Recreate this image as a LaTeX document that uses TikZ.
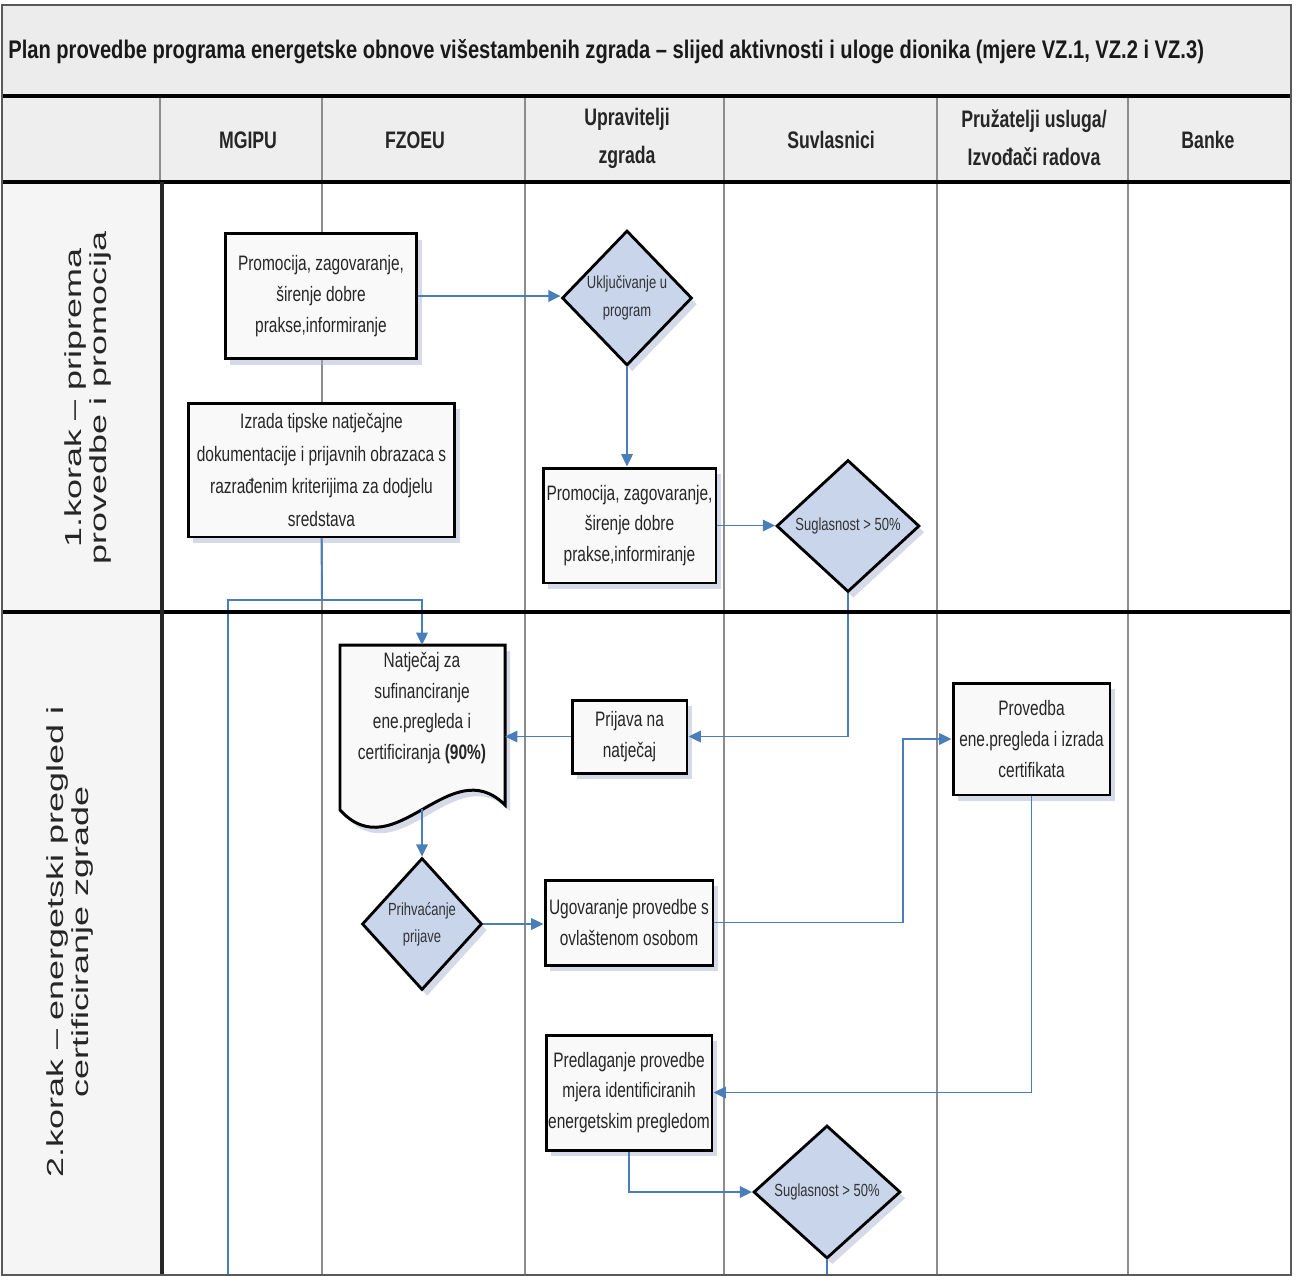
\documentclass[tikz,border=0pt]{standalone}
\usepackage{fontspec}
\setmainfont{Liberation Sans}
\newfontfamily\narrowfont[FakeStretch=0.74]{Liberation Sans}
\newfontfamily\titlenarrow[FakeStretch=0.79]{Liberation Sans}
\newfontfamily\widefont[FakeStretch=1.55]{Liberation Sans}
\usetikzlibrary{shapes.geometric,arrows.meta,shadows,calc}
\definecolor{flowblue}{RGB}{74,126,187}
\definecolor{dfill}{RGB}{200,213,235}
\definecolor{colgray}{RGB}{140,140,140}
\definecolor{bandgray}{RGB}{236,236,236}
\definecolor{hdrgray}{RGB}{238,238,238}
\definecolor{lanegray}{RGB}{245,245,245}
\definecolor{shadowc}{RGB}{165,175,205}
\newcommand{\boxfont}{\narrowfont\fontsize{11.9}{17.5}\selectfont}
\newcommand{\diafont}{\narrowfont\fontsize{10}{15.5}\selectfont}
\newcommand{\hdrfont}{\narrowfont\bfseries\fontsize{13.6}{21.5}\selectfont}
\newcommand{\ttlfont}{\titlenarrow\bfseries\fontsize{14.5}{17}\selectfont}
\newcommand{\lanefont}{\widefont\fontsize{13.2}{14.5}\selectfont}
\begin{document}
\begin{tikzpicture}[x=0.02cm,y=-0.02cm,
  box/.style={draw=black, line width=1.7pt, fill=gray!5, align=center, inner sep=0pt,
    font=\boxfont, text=black!85,
    drop shadow={shadow xshift=3pt, shadow yshift=-3.5pt, fill=shadowc, opacity=0.45}},
  dia/.style={diamond, draw=black, line width=1.6pt, fill=dfill, align=center, inner sep=0pt,
    font=\diafont, text=black!80,
    drop shadow={shadow xshift=3pt, shadow yshift=-3.5pt, fill=shadowc, opacity=0.45}},
  flow/.style={draw=flowblue, line width=1.1pt, -{Triangle[length=7pt,width=6.5pt]}},
  flowline/.style={draw=flowblue, line width=1.1pt},
  colrule/.style={draw=colgray, line width=0.6pt},
  divider/.style={draw=black, line width=2.2pt},
  hdr/.style={font=\hdrfont, align=center, text=black!85},
  lane/.style={rotate=90, align=center, font=\lanefont, text=black!85}
]
\path[use as bounding box] (0,0) rectangle (1294,1275);
\fill[white] (0,0) rectangle (1294,1275);
% bands
\fill[bandgray] (2,5) rectangle (1291,96);
\fill[hdrgray] (2,96) rectangle (1291,182);
\fill[lanegray] (2,182) rectangle (162,1275);
% column rules
\foreach \cx in {322,525,724,937,1128} \draw[colrule] (\cx,96) -- (\cx,1275);
\draw[colrule] (160,96) -- (160,182);

% title
\node[anchor=west, font=\ttlfont, inner sep=0pt, text=black!90] (title) at (8,52)
  {Plan provedbe programa energetske obnove višestambenih zgrada – slijed aktivnosti i uloge dionika (mjere VZ.1, VZ.2 i VZ.3)};

% header
\node[hdr] (hm) at (248,140) {MGIPU};
\node[hdr] (hf) at (415,140) {FZOEU};
\node[hdr] (hu) at (627,138) {Upravitelji\\zgrada};
\node[hdr] (hs) at (831,140) {Suvlasnici};
\node[hdr] (hp) at (1034,138) {Pružatelji usluga/\\Izvođači radova};
\node[hdr] (hb) at (1208,140) {Banke};

% lane labels
\node[lane] (lab1) at (88,398) {1.korak – priprema\\provedbe i promocija};
\node[lane] (lab2) at (70,942) {2.korak – energetski pregled i\\certificiranje zgrade};

% step 1
\node[box, minimum width=3.84cm, minimum height=2.5cm] (p1) at (321,296)
  {Promocija, zagovaranje,\\širenje dobre\\prakse,informiranje};
\node[dia, minimum width=2.6cm, minimum height=2.7cm] (d1) at (627,298) {Uključivanje u\\program};
\node[box, minimum width=5.34cm, minimum height=2.68cm, font=\narrowfont\fontsize{11.9}{18.7}\selectfont] (izr) at (321.5,470)
  {Izrada tipske natječajne\\dokumentacije i prijavnih obrazaca s\\razrađenim kriterijima za dodjelu\\sredstava};
\node[box, minimum width=3.46cm, minimum height=2.3cm] (p2) at (629.5,525.5)
  {Promocija, zagovaranje,\\širenje dobre\\prakse,informiranje};
\node[dia, minimum width=2.86cm, minimum height=2.64cm] (d2) at (848,526) {Suglasnost > 50\%};

% step 2
\coordinate (natc) at (422,708);
\fill[shadowc, opacity=0.45] ($(natc)+(-77,-57)$) -- ($(natc)+(88,-57)$) -- ($(natc)+(88,103)$)
  .. controls ($(natc)+(33,48)$) and ($(natc)+(-22,168)$) .. ($(natc)+(-77,108)$) -- cycle;
\draw[line width=1.7pt, fill=gray!5] ($(natc)+(-82,-63)$) -- ($(natc)+(83,-63)$) -- ($(natc)+(83,97)$)
  .. controls ($(natc)+(28,42)$) and ($(natc)+(-27,162)$) .. ($(natc)+(-82,102)$) -- cycle;
\node[inner sep=0pt, align=center, font=\boxfont, text=black!85] (nat) at (natc)
  {Natječaj za\\sufinanciranje\\ene.pregleda i\\certificiranja \textbf{(90\%)}};
\node[box, minimum width=2.3cm, minimum height=1.46cm] (prij) at (629.5,736.5) {Prijava na\\natječaj};
\node[dia, minimum width=2.4cm, minimum height=2.64cm] (d3) at (422,924) {Prihvaćanje\\prijave};
\node[box, minimum width=3.36cm, minimum height=1.7cm] (ugo) at (629,922.5) {Ugovaranje provedbe s\\ovlaštenom osobom};
\node[box, minimum width=3.14cm, minimum height=2.24cm] (prov) at (1031.5,739)
  {Provedba\\ene.pregleda i izrada\\certifikata};
\node[box, minimum width=3.32cm, minimum height=2.3cm] (pred) at (629,1092.5)
  {Predlaganje provedbe\\mjera identificiranih\\energetskim pregledom};
\node[dia, minimum width=2.94cm, minimum height=2.66cm] (d4) at (827,1192) {Suglasnost > 50\%};

% connectors
\draw[flow] (p1.east) -- (p1.east -| d1.west);
\draw[flow] (d1.south) -- (d1.south |- p2.north);
\draw[flow] (p2.east) -- (p2.east -| d2.west);
\draw[flow] (d2.south) |- (prij.east);
\coordinate (natr) at ($(natc)+(83,29)$);
\draw[flow] (prij.west) -- (prij.west -| natr);
\coordinate (jn) at (322,600);
\coordinate (jl) at (228,600);
\coordinate (bl) at (228,1275);
\coordinate (natt) at ($(natc)+(0,-63)$);
\draw[flowline] (izr.south) -- (jn);
\draw[flow] (bl) -- (jl) -| (natt);
\coordinate (natb) at ($(natc)+(0,101)$);
\draw[flow] (natb) -- (d3.north);
\draw[flow] (d3.east) -- (d3.east -| ugo.west);
\coordinate (b1) at ($(prov.west)+(-49,0)$);
\draw[flow] (ugo.east) -| (b1) -- (prov.west);
\draw[flow] (prov.south) |- (pred.east);
\draw[flow] (pred.south) |- (d4.west);
\coordinate (d4b) at (827,1275);
\draw[flowline] (d4.south) -- (d4b);

% dividers and frame
\draw[divider] (2,96) -- (1291,96);
\draw[divider] (2,182) -- (1291,182);
\draw[divider] (2,612) -- (1291,612);
\draw[line width=1.8pt, black!85] (162,182) -- (162,1275);
\draw[gray!70!black, line width=1pt] (2,5) rectangle (1291,1275);
\end{tikzpicture}
\end{document}
